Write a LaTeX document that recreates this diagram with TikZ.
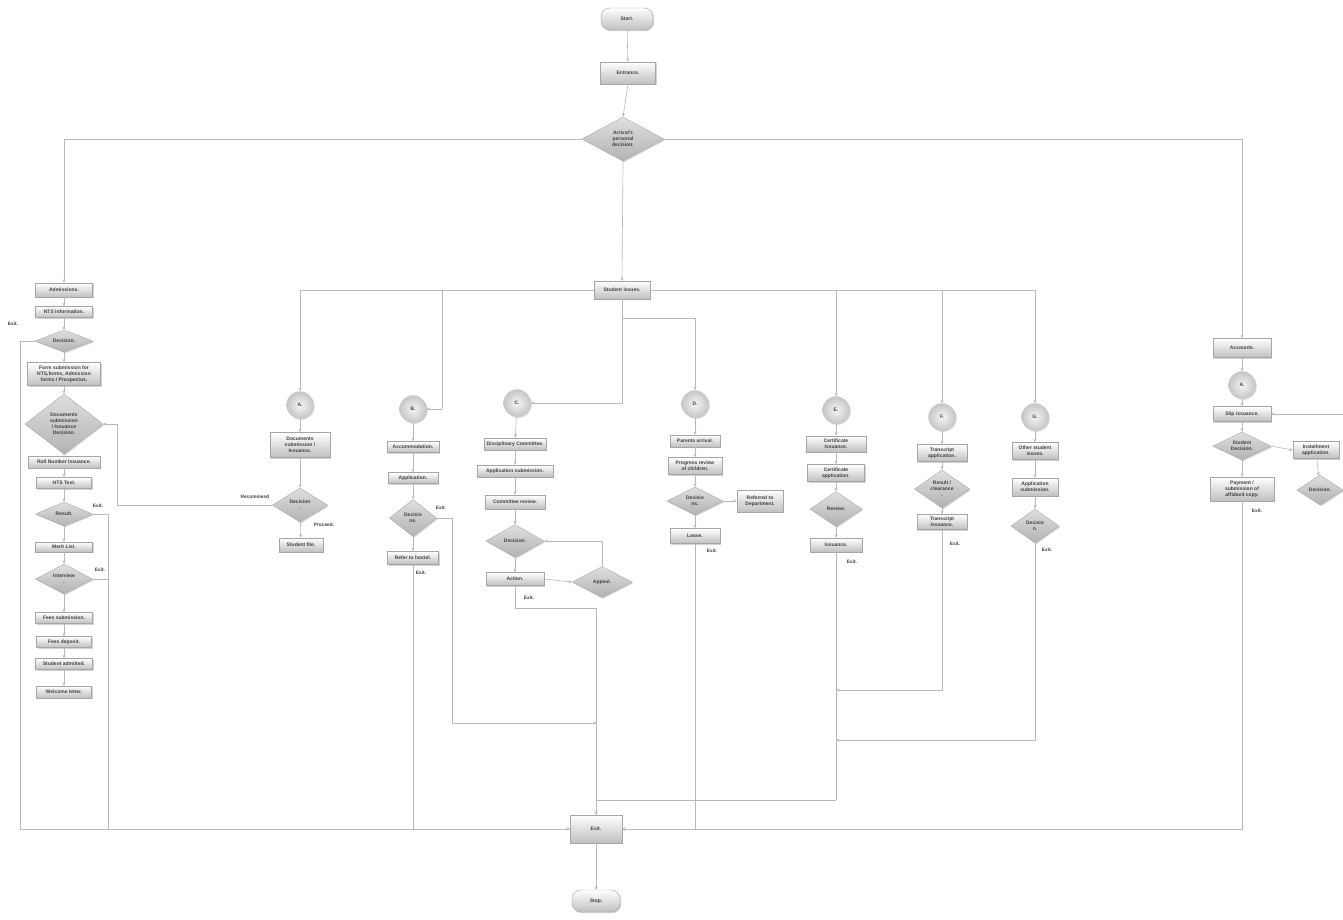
\documentclass[tikz,border=0pt]{standalone}
\usepackage{fontspec}
\setmainfont{Liberation Sans}
\usetikzlibrary{shapes.geometric,arrows.meta,shadows}
\tikzset{
 ln/.style={draw=gray!55, line width=0.6pt},
 arr/.style={ln, -{Stealth[length=3.5pt,width=3pt]}},
 base/.style={font=\fontsize{5}{6}\selectfont\bfseries, text=black!75, align=center, inner sep=1pt},
 sz/.style 2 args={minimum width=#1pt, minimum height=#2pt},
 shad/.style={drop shadow={shadow xshift=1.2pt, shadow yshift=-1.2pt, opacity=0.35}},
 box/.style={base, rectangle, draw=gray!70, line width=0.4pt, top color=white, bottom color=gray!50, shad},
 term/.style={box, rounded corners=9pt},
 dia/.style={base, diamond, aspect=1.6, inner sep=0pt, draw=gray!65, line width=0.4pt, top color=gray!25, bottom color=gray!60, shad},
 circ/.style={base, circle, minimum size=27pt, inner sep=0pt, draw=gray!40, line width=0.3pt, inner color=gray!8, outer color=gray!45, shad},
 lab/.style={font=\fontsize{4.8}{5.5}\selectfont\bfseries, text=black!75, inner sep=0pt},
}
\begin{document}
\begin{tikzpicture}[x=1pt,y=-1pt]
\fill[white] (0,0) rectangle (1343,920);
\useasboundingbox (0,0) rectangle (1343,920);

% top
\node[term, sz={52}{22}] (start) at (627,19) {Start.};
\node[box, sz={55}{22}] (entr) at (628,73) {Entrance.};
\node[dia, sz={82}{44}, aspect=1.9] (arr) at (623,139) {Arrival's\\personal\\decision.};
\node[box, sz={56}{18}] (si) at (622,290) {Student issues.};

% left column
\node[box, sz={57}{14}] (adm) at (64,290) {Admissions.};
\node[box, sz={57}{11}] (nts) at (64,312) {NTS Information.};
\node[dia, sz={58}{22}, aspect=2.6] (dec1) at (64,341) {Decision.};
\node[box, sz={73}{23}] (form) at (64,374) {Form submission for\\NTS,forms, Admission\\forms / Prospectus.};
\node[dia, sz={78}{60}, aspect=1.3] (docs) at (64,424) {Documents\\submission\\/ Issuance\\Decision.};
\node[box, sz={72}{12}] (roll) at (64,462) {Roll Number Issuance.};
\node[box, sz={55}{11}] (ntst) at (64,483) {NTS Test.};
\node[dia, sz={57}{24}, aspect=2.4] (res) at (64,514) {Result.};
\node[box, sz={57}{10}] (merit) at (64,547) {Merit List.};
\node[dia, sz={57}{30}, aspect=1.9] (intv) at (64,579) {Interview\\.};
\node[box, sz={57}{11}] (feesub) at (64,618) {Fees submission.};
\node[box, sz={55}{11}] (feedep) at (64,642) {Fees deposit.};
\node[box, sz={57}{11}] (admt) at (64,664) {Student admitted.};
\node[box, sz={55}{12}] (welc) at (64,692) {Welcome letter.};

% A
\node[circ] (acirc) at (300,405) {A.};
\node[box, sz={60}{25}] (adocs) at (300,445) {Documents\\submission /\\Issuance.};
\node[dia, sz={55}{34}] (adec) at (300,505) {Decision\\.};
\node[box, sz={44}{14}] (afile) at (301,545) {Student file.};

% B
\node[circ] (bcirc) at (413,409) {B.};
\node[box, sz={52}{11}] (accom) at (413,447) {Accommodation.};
\node[box, sz={50}{11}] (bapp) at (413,478) {Application.};
\node[dia, sz={47}{37}, aspect=1.3] (bdec) at (413,518) {Decisio\\ns.};
\node[box, sz={51}{13}] (hostel) at (413,558) {Refer to hostel.};

% C
\node[circ] (ccirc) at (517,403) {C.};
\node[box, sz={62}{12}] (disc) at (515,444) {Disciplinary Committee.};
\node[box, sz={76}{12}] (capp) at (515,471) {Application submission.};
\node[box, sz={60}{14}] (crev) at (515,502) {Committee review.};
\node[dia, sz={58}{33}, aspect=1.8] (cdec) at (515,541) {Decision.};
\node[box, sz={58}{13}] (action) at (515,579) {Action.};
\node[dia, sz={60}{31}, aspect=1.9] (appeal) at (602,582) {Appeal.};

% D
\node[circ] (dcirc) at (695,404) {D.};
\node[box, sz={50}{12}] (parents) at (695,441) {Parents arrival.};
\node[box, sz={54}{17}] (prog) at (695,466) {Progress review\\of children.};
\node[dia, sz={56}{28}, aspect=2] (ddec) at (695,501) {Decisio\\ns.};
\node[box, sz={46}{22}] (refd) at (760,501) {Referred to\\Department.};
\node[box, sz={50}{15}] (leave) at (695,536) {Leave.};

% E
\node[circ] (ecirc) at (836,410) {E.};
\node[box, sz={60}{16}] (cert) at (836,444) {Certificate\\Issuance.};
\node[box, sz={57}{17}] (capp2) at (836,473) {Certificate\\application.};
\node[dia, sz={52}{35}, aspect=1.5] (review) at (836,509) {Review.};
\node[box, sz={52}{14}] (eiss) at (836,545) {Issuance.};

% F
\node[circ] (fcirc) at (942,417) {F.};
\node[box, sz={50}{17}] (tapp) at (942,453) {Transcript\\application.};
\node[dia, sz={55}{38}, aspect=1.45] (fres) at (942,489) {Result /\\clearance\\.};
\node[box, sz={50}{15}] (tiss) at (942,522) {Transcript\\Issuance.};

% G
\node[circ] (gcirc) at (1035,417) {G.};
\node[box, sz={46}{17}] (other) at (1035,451) {Other student\\issues.};
\node[box, sz={46}{18}] (gapp) at (1035,487) {Application\\submission.};
\node[dia, sz={48}{34}, aspect=1.4] (gdec) at (1035,526) {Decisio\\n.};

% Accounts
\node[box, sz={58}{19}] (acc) at (1242,348) {Accounts.};
\node[circ] (acirc2) at (1242,385) {A.};
\node[box, sz={58}{15}] (slip) at (1242,414) {Slip issuance.};
\node[dia, sz={58}{28}, aspect=2] (sdec) at (1242,446) {Student\\Decision.};
\node[box, sz={46}{17}] (inst) at (1316,450) {Installment\\application.};
\node[dia, sz={46}{30}, aspect=1.5] (idec) at (1320,490) {Decision.};
\node[box, sz={64}{24}] (pay) at (1242,489) {Payment /\\submission of\\affidavit copy.};

% exit / stop
\node[box, sz={52}{28}] (exit) at (596,829) {Exit.};
\node[term, sz={48}{22}] (stop) at (596,901) {Stop.};

% coordinates
\coordinate (bturn) at (442,409);
\coordinate (dturn) at (622,318);
\coordinate (rc) at (117,505);
\coordinate (bj) at (452,723);
\coordinate (cj) at (597,723);
\coordinate (ebot) at (836,800);
\coordinate (fj) at (836,690);
\coordinate (gj) at (836,740);
\coordinate (rin) at (1343,414);

% top connectors
\draw[arr] (start) -- (entr);
\draw[arr] (entr.south) -- (arr.north);
\draw[arr] (arr.west) -| (adm.north);
\draw[arr] (arr.east) -| (acc.north);
\draw[arr] (arr.south) -- (si.north);

% left chain
\draw[arr] (adm) -- (nts);
\draw[arr] (nts) -- (dec1);
\draw[arr] (dec1) -- (form);
\draw[arr] (form) -- (docs);
\draw[arr] (docs) -- (roll);
\draw[arr] (roll) -- (ntst);
\draw[arr] (ntst) -- (res);
\draw[arr] (res) -- (merit);
\draw[arr] (merit) -- (intv);
\draw[arr] (intv) -- (feesub);
\draw[arr] (feesub) -- (feedep);
\draw[arr] (feedep) -- (admt);
\draw[arr] (admt) -- (welc);
\draw[arr] (dec1.west) -- ++(-15,0) |- (exit.west);
\draw[arr] (res.east) -- ++(16,0) |- (exit.west);
\draw[ln] (intv.east) -- ++(16,0);

% student issues branches
\draw[arr] (si.west) -| (acirc.north);
\draw[ln] (si.west) -| (bturn);
\draw[arr] (bturn) -- (bcirc.east);
\draw[arr] (si.south) |- (ccirc.east);
\draw[arr] (dturn) -| (dcirc.north);
\draw[arr] (si.east) -| (ecirc.north);
\draw[arr] (si.east) -| (fcirc.north);
\draw[arr] (si.east) -| (gcirc.north);

% A
\draw[arr] (acirc) -- (adocs);
\draw[arr] (adocs) -- (adec);
\draw[arr] (adec) -- (afile);
\draw[arr] (adec.west) -- (rc) |- (docs.east);

% B
\draw[arr] (bcirc) -- (accom);
\draw[arr] (accom) -- (bapp);
\draw[arr] (bapp) -- (bdec);
\draw[arr] (bdec) -- (hostel);
\draw[ln] (bdec.east) -| (bj);
\draw[arr] (bj) -- (cj);
\draw[ln] (hostel.south) -- (hostel.south |- exit.west);

% C
\draw[arr] (ccirc) -- (disc);
\draw[arr] (disc) -- (capp);
\draw[arr] (capp) -- (crev);
\draw[arr] (crev) -- (cdec);
\draw[arr] (cdec) -- (action);
\draw[arr] (action.east) -- (appeal.west);
\draw[arr] (appeal.north) |- (cdec.east);
\draw[arr] (action.south) -- ++(0,23) -| (exit.north);

% D
\draw[arr] (dcirc) -- (parents);
\draw[arr] (parents) -- (prog);
\draw[arr] (prog) -- (ddec);
\draw[arr] (ddec) -- (leave);
\draw[arr] (ddec.east) -- (refd.west);
\draw[arr] (leave.south) |- (exit.east);

% E
\draw[arr] (ecirc) -- (cert);
\draw[arr] (cert) -- (capp2);
\draw[arr] (capp2) -- (review);
\draw[arr] (review) -- (eiss);
\draw[ln] (eiss.south) -- (ebot);
\draw[arr] (ebot) -| (exit.north);

% F
\draw[arr] (fcirc) -- (tapp);
\draw[arr] (tapp) -- (fres);
\draw[arr] (fres) -- (tiss);
\draw[arr] (tiss.south) |- (fj);

% G
\draw[arr] (gcirc) -- (other);
\draw[arr] (other) -- (gapp);
\draw[arr] (gapp) -- (gdec);
\draw[arr] (gdec.south) |- (gj);

% Accounts
\draw[arr] (acc) -- (acirc2);
\draw[arr] (acirc2) -- (slip);
\draw[arr] (slip) -- (sdec);
\draw[arr] (sdec.east) -- (inst.west);
\draw[arr] (inst) -- (idec);
\draw[arr] (sdec) -- (pay);
\draw[arr] (pay.south) |- (exit.east);
\draw[arr] (rin) -- (slip.east);

% exit
\draw[arr] (exit) -- (stop);

% labels
\node[lab] (l1) at (13,324) {Exit.};
\node[lab] (l2) at (98,506) {Exit.};
\node[lab] (l3) at (100,570) {Exit.};
\node[lab] (l4) at (255,497) {Recommend};
\node[lab] (l5) at (324,525) {Proceed.};
\node[lab] (l6) at (441,508) {Exit.};
\node[lab] (l7) at (421,573) {Exit.};
\node[lab] (l8) at (529,598) {Exit.};
\node[lab] (l9) at (712,551) {Exit.};
\node[lab] (l10) at (852,562) {Exit.};
\node[lab] (l11) at (955,544) {Exit.};
\node[lab] (l12) at (1047,550) {Exit.};
\node[lab] (l13) at (1257,511) {Exit.};
\end{tikzpicture}
\end{document}
